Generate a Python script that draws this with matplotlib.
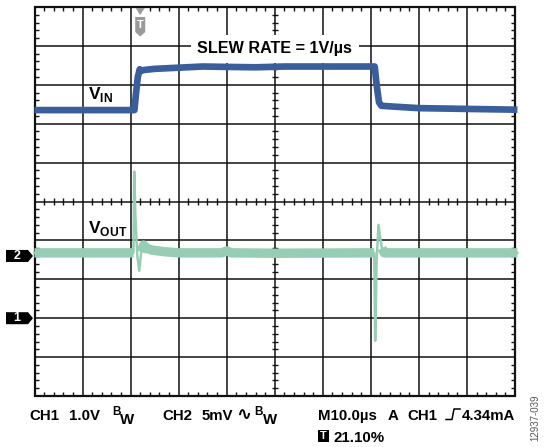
import numpy as np
import matplotlib.pyplot as plt
from matplotlib.patches import Polygon
from matplotlib.lines import Line2D
from matplotlib.transforms import ScaledTranslation

plt.rcParams['font.family'] = ['Liberation Sans', 'DejaVu Sans']
plt.rcParams['mathtext.fontset'] = 'custom'
plt.rcParams['mathtext.rm'] = 'Liberation Sans:bold'
plt.rcParams['mathtext.bf'] = 'Liberation Sans:bold'

# scope traces, x and y in screen divisions (10 x 10 grid, centre = 0)
vin_x = [0.0, 2.08, 2.11, 2.15, 2.19, 2.22, 2.27, 2.5, 3.0, 3.5, 4.0, 4.6, 5.2,
         6.0, 7.08, 7.12, 7.17, 7.22, 7.6, 8.0, 9.0, 10.05]
vin_y = [2.35, 2.35, 2.75, 3.2, 3.40, 3.36, 3.38, 3.41, 3.44, 3.47, 3.46, 3.45,
         3.47, 3.47, 3.47, 3.0, 2.55, 2.46, 2.43, 2.40, 2.38, 2.36]

vout_x = [0.0, 2.06, 2.075, 2.10, 2.14, 2.18, 2.22, 2.27, 2.33, 2.45, 2.7, 3.0,
          3.9, 4.0, 4.1, 5.0, 7.07, 7.09, 7.12, 7.16, 7.19, 7.23, 7.28, 8.0, 10.05]
vout_y = [-1.32, -1.32, 0.77, -0.4, -1.4, -1.78, -1.3, -1.12, -1.2, -1.25,
          -1.29, -1.32, -1.32, -1.27, -1.32, -1.33, -1.32, -3.58, -1.5, -0.6,
          -0.9, -1.2, -1.32, -1.32, -1.32]

ch_markers = ['2', '1']
ch_levels = [-1.4, -3.0]
trigger_x = 2.2

vin_color = '#3a5e9c'
vout_color = '#98cdb5'

fig = plt.figure(figsize=(5.45, 4.47), dpi=100)
W, H = 545, 447
ax = fig.add_axes([34.5 / W, 1 - 396 / H, 480.5 / W, 389 / H])
ax.set_xlim(0, 10)
ax.set_ylim(-5, 5)
ax.axis('off')

# graticule
for gx in range(1, 10):
    ax.axvline(gx, color='#111111', lw=1.1, zorder=1)
for gy in range(-4, 5):
    ax.axhline(gy, color='#111111', lw=1.1, zorder=1)
ax.add_patch(plt.Rectangle((0, -5), 10, 10, fill=False, ec='#111111', lw=1.6,
                           zorder=4, clip_on=False))

tdx = 4 / 48.0
tdy = 4 / 38.9
minor_x = [v for v in np.arange(0, 10.01, 0.2) if abs(v - round(v)) > 0.01]
minor_y = [v for v in np.arange(-5, 5.01, 0.2) if abs(v - round(v)) > 0.01]
tk = dict(color='#111111', lw=1.0, zorder=2)
ax.vlines(minor_x, 5 - tdy, 5, **tk)
ax.vlines(minor_x, -5, -5 + tdy, **tk)
ax.vlines(minor_x, -tdy * 0.8, tdy * 0.8, **tk)
ax.hlines(minor_y, 0, tdx, **tk)
ax.hlines(minor_y, 10 - tdx, 10, **tk)
ax.hlines(minor_y, 5 - tdx * 0.8, 5 + tdx * 0.8, **tk)

# traces
ax.plot(vin_x, vin_y, color=vin_color, lw=4.8, solid_capstyle='butt',
        zorder=5, clip_on=False)
vx = np.array(vout_x)
vy = np.array(vout_y)
band = np.ma.masked_where(np.abs(vy + 1.3) > 0.3, vy)
ax.plot(vx, band, color=vout_color, lw=6.8, solid_capstyle='butt', zorder=5,
        clip_on=False)
ax.plot(vx, vy, color=vout_color, lw=1.8, zorder=5, clip_on=False)

# labels in the grid
ax.text(5.0, 3.81, 'SLEW RATE = 1V/µs', ha='center', va='baseline',
        fontsize=11.6, fontweight='bold', zorder=6,
        bbox=dict(boxstyle='square,pad=0.4', fc='white', ec='none'))
ax.text(1.11, 2.64, r'$\mathbf{V}_{\mathbf{IN}}$', fontsize=12.5, va='baseline',
        zorder=6)
ax.text(1.11, -0.80, r'$\mathbf{V}_{\mathbf{OUT}}$', fontsize=12.5,
        va='baseline', zorder=6)


def px_poly(x, y, pts, color, z=7):
    tr = fig.dpi_scale_trans + ScaledTranslation(x, y, ax.transData)
    verts = [(a / 100.0, b / 100.0) for a, b in pts]
    ax.add_patch(Polygon(verts, closed=True, fc=color, ec='none',
                         transform=tr, clip_on=False, zorder=z))
    return tr


# trigger marker at the top
tr = px_poly(trigger_x, 5, [(-4.5, -1), (4.5, -1), (0, -8)], '#9a9a9a')
px_poly(trigger_x, 5, [(-5, -10), (5, -10), (5, -25), (0, -29.5), (-5, -25)],
        '#9a9a9a')
ax.text(0, -0.175, 'T', transform=tr, color='white', fontsize=8,
        fontweight='bold', ha='center', va='center', zorder=8)

# channel ground markers
for lab, lev in zip(ch_markers, ch_levels):
    tr = px_poly(0, lev, [(-28.5, 6), (-6.5, 6), (-1.5, 0), (-6.5, -6),
                          (-28.5, -6)], 'black')
    ax.text(-0.175, 0, lab, transform=tr, color='white', fontsize=9,
            fontweight='bold', ha='center', va='center', zorder=8)


def ftext(x, y, s, size=10.8, **kw):
    fig.text(x / W, 1 - y / H, s, fontsize=size, fontweight='bold',
             va='baseline', **kw)


# readout line
ftext(29, 419.7, 'CH1')
ftext(69, 419.7, '1.0V')
ftext(112, 415, 'B', size=8.5)
ftext(120, 423.5, 'W')
ftext(162, 419.7, 'CH2')
ftext(202, 419.7, '5mV')
ftext(236, 420, '∿', size=13)
ftext(254, 415, 'B', size=8.5)
ftext(263, 423.5, 'W')
ftext(318, 419.7, 'M10.0µs')
ftext(388, 419.7, 'A')
ftext(407, 419.7, 'CH1')
fig.add_artist(Line2D([446 / W, 452 / W, 454 / W, 460 / W],
                      [1 - 419.5 / H, 1 - 419.5 / H, 1 - 409 / H, 1 - 409 / H],
                      color='black', lw=1.1))
ftext(462, 419.7, '4.34mA')

fig.add_artist(plt.Rectangle((318 / W, 1 - 442 / H), 10.5 / W, 12 / H,
                             transform=fig.transFigure, fc='black', ec='none'))
fig.text(323.3 / W, 1 - 436 / H, 'T', color='white', fontsize=8,
         fontweight='bold', ha='center', va='center')
ftext(333, 441.7, '21.10%')

fig.text(535 / W, 1 - 417.5 / H, '12937-039', rotation=90, fontsize=7,
         color='#555555', ha='center', va='center')

fig.savefig('out.png', dpi=100)
